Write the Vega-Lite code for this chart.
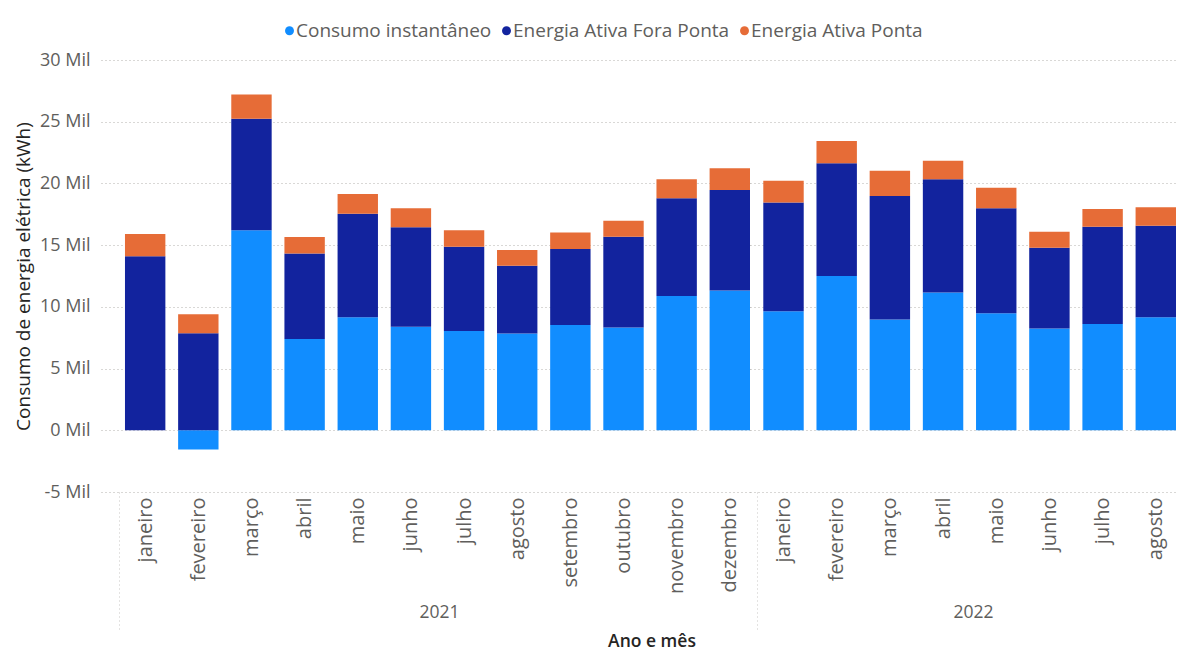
{
  "$schema": "https://vega.github.io/schema/vega-lite/v6.json",
  "background": "white",
  "padding": {"left": 14, "top": 21, "right": 0, "bottom": 0},
  "datasets": {"consumo": [
    {"ano": "2021", "mes": "janeiro", "serie": "Consumo instantâneo", "ord": 1, "valor": 0},
    {"ano": "2021", "mes": "janeiro", "serie": "Energia Ativa Fora Ponta", "ord": 2, "valor": 14100},
    {"ano": "2021", "mes": "janeiro", "serie": "Energia Ativa Ponta", "ord": 3, "valor": 1800},
    {"ano": "2021", "mes": "fevereiro", "serie": "Consumo instantâneo", "ord": 1, "valor": -1550},
    {"ano": "2021", "mes": "fevereiro", "serie": "Energia Ativa Fora Ponta", "ord": 2, "valor": 7870},
    {"ano": "2021", "mes": "fevereiro", "serie": "Energia Ativa Ponta", "ord": 3, "valor": 1530},
    {"ano": "2021", "mes": "março", "serie": "Consumo instantâneo", "ord": 1, "valor": 16200},
    {"ano": "2021", "mes": "março", "serie": "Energia Ativa Fora Ponta", "ord": 2, "valor": 9050},
    {"ano": "2021", "mes": "março", "serie": "Energia Ativa Ponta", "ord": 3, "valor": 1950},
    {"ano": "2021", "mes": "abril", "serie": "Consumo instantâneo", "ord": 1, "valor": 7400},
    {"ano": "2021", "mes": "abril", "serie": "Energia Ativa Fora Ponta", "ord": 2, "valor": 6930},
    {"ano": "2021", "mes": "abril", "serie": "Energia Ativa Ponta", "ord": 3, "valor": 1320},
    {"ano": "2021", "mes": "maio", "serie": "Consumo instantâneo", "ord": 1, "valor": 9160},
    {"ano": "2021", "mes": "maio", "serie": "Energia Ativa Fora Ponta", "ord": 2, "valor": 8380},
    {"ano": "2021", "mes": "maio", "serie": "Energia Ativa Ponta", "ord": 3, "valor": 1600},
    {"ano": "2021", "mes": "junho", "serie": "Consumo instantâneo", "ord": 1, "valor": 8380},
    {"ano": "2021", "mes": "junho", "serie": "Energia Ativa Fora Ponta", "ord": 2, "valor": 8060},
    {"ano": "2021", "mes": "junho", "serie": "Energia Ativa Ponta", "ord": 3, "valor": 1540},
    {"ano": "2021", "mes": "julho", "serie": "Consumo instantâneo", "ord": 1, "valor": 8050},
    {"ano": "2021", "mes": "julho", "serie": "Energia Ativa Fora Ponta", "ord": 2, "valor": 6820},
    {"ano": "2021", "mes": "julho", "serie": "Energia Ativa Ponta", "ord": 3, "valor": 1330},
    {"ano": "2021", "mes": "agosto", "serie": "Consumo instantâneo", "ord": 1, "valor": 7840},
    {"ano": "2021", "mes": "agosto", "serie": "Energia Ativa Fora Ponta", "ord": 2, "valor": 5490},
    {"ano": "2021", "mes": "agosto", "serie": "Energia Ativa Ponta", "ord": 3, "valor": 1270},
    {"ano": "2021", "mes": "setembro", "serie": "Consumo instantâneo", "ord": 1, "valor": 8540},
    {"ano": "2021", "mes": "setembro", "serie": "Energia Ativa Fora Ponta", "ord": 2, "valor": 6140},
    {"ano": "2021", "mes": "setembro", "serie": "Energia Ativa Ponta", "ord": 3, "valor": 1350},
    {"ano": "2021", "mes": "outubro", "serie": "Consumo instantâneo", "ord": 1, "valor": 8330},
    {"ano": "2021", "mes": "outubro", "serie": "Energia Ativa Fora Ponta", "ord": 2, "valor": 7350},
    {"ano": "2021", "mes": "outubro", "serie": "Energia Ativa Ponta", "ord": 3, "valor": 1290},
    {"ano": "2021", "mes": "novembro", "serie": "Consumo instantâneo", "ord": 1, "valor": 10870},
    {"ano": "2021", "mes": "novembro", "serie": "Energia Ativa Fora Ponta", "ord": 2, "valor": 7920},
    {"ano": "2021", "mes": "novembro", "serie": "Energia Ativa Ponta", "ord": 3, "valor": 1540},
    {"ano": "2021", "mes": "dezembro", "serie": "Consumo instantâneo", "ord": 1, "valor": 11330},
    {"ano": "2021", "mes": "dezembro", "serie": "Energia Ativa Fora Ponta", "ord": 2, "valor": 8130},
    {"ano": "2021", "mes": "dezembro", "serie": "Energia Ativa Ponta", "ord": 3, "valor": 1760},
    {"ano": "2022", "mes": "janeiro", "serie": "Consumo instantâneo", "ord": 1, "valor": 9650},
    {"ano": "2022", "mes": "janeiro", "serie": "Energia Ativa Fora Ponta", "ord": 2, "valor": 8810},
    {"ano": "2022", "mes": "janeiro", "serie": "Energia Ativa Ponta", "ord": 3, "valor": 1760},
    {"ano": "2022", "mes": "fevereiro", "serie": "Consumo instantâneo", "ord": 1, "valor": 12490},
    {"ano": "2022", "mes": "fevereiro", "serie": "Energia Ativa Fora Ponta", "ord": 2, "valor": 9140},
    {"ano": "2022", "mes": "fevereiro", "serie": "Energia Ativa Ponta", "ord": 3, "valor": 1810},
    {"ano": "2022", "mes": "março", "serie": "Consumo instantâneo", "ord": 1, "valor": 8980},
    {"ano": "2022", "mes": "março", "serie": "Energia Ativa Fora Ponta", "ord": 2, "valor": 10000},
    {"ano": "2022", "mes": "março", "serie": "Energia Ativa Ponta", "ord": 3, "valor": 2050},
    {"ano": "2022", "mes": "abril", "serie": "Consumo instantâneo", "ord": 1, "valor": 11170},
    {"ano": "2022", "mes": "abril", "serie": "Energia Ativa Fora Ponta", "ord": 2, "valor": 9160},
    {"ano": "2022", "mes": "abril", "serie": "Energia Ativa Ponta", "ord": 3, "valor": 1510},
    {"ano": "2022", "mes": "maio", "serie": "Consumo instantâneo", "ord": 1, "valor": 9490},
    {"ano": "2022", "mes": "maio", "serie": "Energia Ativa Fora Ponta", "ord": 2, "valor": 8490},
    {"ano": "2022", "mes": "maio", "serie": "Energia Ativa Ponta", "ord": 3, "valor": 1670},
    {"ano": "2022", "mes": "junho", "serie": "Consumo instantâneo", "ord": 1, "valor": 8250},
    {"ano": "2022", "mes": "junho", "serie": "Energia Ativa Fora Ponta", "ord": 2, "valor": 6540},
    {"ano": "2022", "mes": "junho", "serie": "Energia Ativa Ponta", "ord": 3, "valor": 1290},
    {"ano": "2022", "mes": "julho", "serie": "Consumo instantâneo", "ord": 1, "valor": 8620},
    {"ano": "2022", "mes": "julho", "serie": "Energia Ativa Fora Ponta", "ord": 2, "valor": 7870},
    {"ano": "2022", "mes": "julho", "serie": "Energia Ativa Ponta", "ord": 3, "valor": 1430},
    {"ano": "2022", "mes": "agosto", "serie": "Consumo instantâneo", "ord": 1, "valor": 9160},
    {"ano": "2022", "mes": "agosto", "serie": "Energia Ativa Fora Ponta", "ord": 2, "valor": 7410},
    {"ano": "2022", "mes": "agosto", "serie": "Energia Ativa Ponta", "ord": 3, "valor": 1490}
  ]},
  "data": {"name": "consumo"},
  "title": {
    "text": "Ano e mês",
    "orient": "bottom",
    "anchor": "middle",
    "frame": "group",
    "offset": 0,
    "dx": 551,
    "fontSize": 17.5,
    "fontWeight": 600,
    "color": "#252423",
    "font": "Open Sans"
  },
  "spacing": 0,
  "resolve": {"scale": {"x": "independent", "y": "shared", "color": "shared"}, "axis": {"y": "independent"}},
  "hconcat": [
    {
      "transform": [{"filter": "datum.ano === '2021'"}],
      "width": 649,
      "height": 432,
      "mark": {"type": "bar"},
      "encoding": {
        "x": {
          "field": "mes",
          "type": "nominal",
          "sort": ["janeiro", "fevereiro", "março", "abril", "maio", "junho", "julho", "agosto", "setembro", "outubro", "novembro", "dezembro"],
          "scale": {"paddingInner": 0.24, "paddingOuter": 0.2256, "align": 1},
          "axis": {
            "title": "2021",
            "titleX": 338,
            "labelAngle": -90,
            "labelFontSize": 20,
            "labelColor": "#605E5C",
            "labelPadding": -135,
            "labelOffset": 26.6,
            "ticks": true,
            "tickOffset": -26.6,
            "tickSize": 140,
            "tickColor": "#C8C6C4",
            "tickDash": [1, 3],
            "tickWidth": 1,
            "tickOpacity": {"condition": {"test": "datum.value === 'janeiro'", "value": 1}, "value": 0},
            "domain": false,
            "grid": false,
            "titleFontSize": 17.5,
            "titleColor": "#605E5C",
            "titleFontWeight": "normal",
            "titlePadding": -29
          }
        },
        "y": {
          "field": "valor",
          "type": "quantitative",
          "stack": "zero",
          "scale": {"domain": [-5000, 30000], "nice": false, "zero": false},
          "axis": {
            "title": "Consumo de energia elétrica (kWh)",
            "values": [-5000, 0, 5000, 10000, 15000, 20000, 25000, 30000],
            "labelExpr": "(datum.value / 1000) + ' Mil'",
            "labelFontSize": 18,
            "labelColor": "#605E5C",
            "labelPadding": 11,
            "ticks": false,
            "domain": false,
            "grid": true,
            "gridColor": "#B3B0AD",
            "gridDash": [1, 3],
            "gridWidth": 1,
            "titleFontSize": 19,
            "titleColor": "#252423",
            "titleFontWeight": "normal",
            "titlePadding": 6
          }
        },
        "color": {
          "field": "serie",
          "type": "nominal",
          "scale": {
            "domain": ["Consumo instantâneo", "Energia Ativa Fora Ponta", "Energia Ativa Ponta"],
            "range": ["#118DFF", "#12239E", "#E66C37"]
          },
          "legend": {
            "title": null,
            "orient": "none",
            "direction": "horizontal",
            "legendX": 179,
            "legendY": -39,
            "symbolType": "circle",
            "symbolSize": 80,
            "symbolStrokeWidth": 0,
            "labelFontSize": 19,
            "labelColor": "#605E5C",
            "labelLimit": 0,
            "labelOffset": -3,
            "columnPadding": 5
          }
        },
        "order": {"field": "ord", "type": "quantitative"}
      }
    },
    {
      "transform": [{"filter": "datum.ano === '2022'"}],
      "width": 426,
      "height": 432,
      "mark": {"type": "bar"},
      "encoding": {
        "x": {
          "field": "mes",
          "type": "nominal",
          "sort": ["janeiro", "fevereiro", "março", "abril", "maio", "junho", "julho", "agosto", "setembro", "outubro", "novembro", "dezembro"],
          "scale": {"paddingInner": 0.24, "paddingOuter": 0.125, "align": 1},
          "axis": {
            "title": "2022",
            "titleX": 223,
            "labelAngle": -90,
            "labelFontSize": 20,
            "labelColor": "#605E5C",
            "labelPadding": -135,
            "labelOffset": 26.6,
            "ticks": true,
            "tickOffset": -26.6,
            "tickSize": 140,
            "tickColor": "#C8C6C4",
            "tickDash": [1, 3],
            "tickWidth": 1,
            "tickOpacity": {"condition": {"test": "datum.value === 'janeiro'", "value": 1}, "value": 0},
            "domain": false,
            "grid": false,
            "titleFontSize": 17.5,
            "titleColor": "#605E5C",
            "titleFontWeight": "normal",
            "titlePadding": -29
          }
        },
        "y": {
          "field": "valor",
          "type": "quantitative",
          "stack": "zero",
          "scale": {"domain": [-5000, 30000], "nice": false, "zero": false},
          "axis": {
            "title": null,
            "labels": false,
            "values": [-5000, 0, 5000, 10000, 15000, 20000, 25000, 30000],
            "ticks": false,
            "domain": false,
            "labelPadding": 0,
            "minExtent": 0,
            "maxExtent": 0,
            "grid": true,
            "gridColor": "#B3B0AD",
            "gridDash": [1, 3],
            "gridWidth": 1
          }
        },
        "color": {
          "field": "serie",
          "type": "nominal",
          "scale": {
            "domain": ["Consumo instantâneo", "Energia Ativa Fora Ponta", "Energia Ativa Ponta"],
            "range": ["#118DFF", "#12239E", "#E66C37"]
          },
          "legend": null
        },
        "order": {"field": "ord", "type": "quantitative"}
      }
    }
  ],
  "config": {
    "font": "Open Sans",
    "view": {"stroke": null},
    "concat": {"spacing": 0},
    "axis": {"labelFont": "Open Sans", "titleFont": "Open Sans"},
    "legend": {"labelFont": "Open Sans"}
  }
}
